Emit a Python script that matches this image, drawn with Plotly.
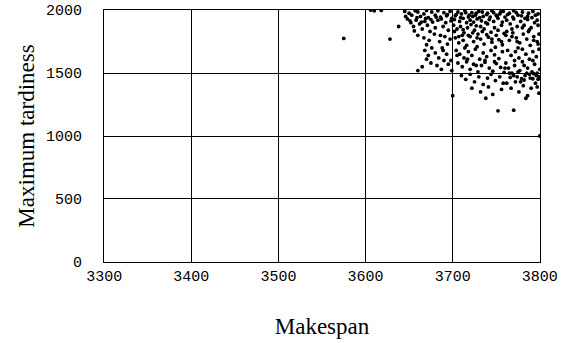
import plotly.graph_objects as go

outlier_x = [3575, 3606, 3610, 3618, 3628, 3638, 3700, 3752, 3770, 3800, 3660, 3665, 3690]
outlier_y = [1775, 2000, 1995, 1998, 1770, 1870, 1320, 1200, 1205, 1000, 1520, 1550, 1600]

top_x = [3645, 3650, 3653, 3657, 3660, 3663, 3667, 3670, 3672, 3676, 3680, 3683, 3686, 3690, 3694, 3697,
         3703, 3706, 3710, 3714, 3718, 3722, 3726, 3730, 3735, 3740, 3745, 3750, 3755, 3760, 3765, 3770,
         3775, 3780, 3786, 3792, 3798]
top_y = [1990, 1975, 1960, 1995, 1985, 1950, 1970, 1998, 1940, 1985, 1960, 1995, 1945, 1980, 1965, 1990,
         1955, 1985, 1970, 1995, 1945, 1980, 1960, 1990, 1950, 1975, 1995, 1960, 1985, 1945, 1975, 1995,
         1960, 1985, 1950, 1990, 1970]

a_x = [3648, 3652, 3655, 3658, 3662, 3665, 3668, 3671, 3674, 3677, 3680, 3683, 3686, 3689, 3692, 3695,
       3698, 3660, 3667, 3673, 3679, 3685, 3691, 3697, 3656, 3670, 3688, 3694]
a_y = [1930, 1900, 1870, 1920, 1890, 1850, 1910, 1880, 1830, 1905, 1860, 1920, 1800, 1870, 1900, 1840,
       1915, 1800, 1780, 1760, 1810, 1750, 1790, 1770, 1835, 1725, 1700, 1730]

d_x = [3668, 3672, 3676, 3680, 3684, 3689, 3693, 3698, 3675, 3682, 3687, 3695, 3699, 3670]
d_y = [1680, 1640, 1700, 1660, 1620, 1680, 1650, 1600, 1580, 1560, 1530, 1570, 1520, 1610]

b_x = [3702, 3708, 3712, 3716, 3720, 3724, 3728, 3733, 3738, 3742, 3747, 3752, 3757,
       3701, 3705, 3709, 3713, 3717, 3721, 3725, 3729, 3732, 3736, 3740, 3744, 3748, 3752, 3756, 3759, 3711, 3727,
       3703, 3707, 3712, 3716, 3720, 3724, 3728, 3732, 3736, 3741, 3745, 3749, 3753, 3757, 3714,
       3704, 3708, 3713, 3718, 3722, 3726, 3731, 3735, 3739, 3744, 3748, 3753, 3757,
       3706, 3711, 3716, 3720, 3724, 3729, 3733, 3737, 3742, 3746, 3750, 3755, 3759,
       3710, 3715, 3720, 3725, 3730, 3735, 3740, 3744, 3749, 3754, 3758,
       3722, 3732, 3741, 3746, 3756, 3738]
b_y = [1925, 1910, 1935, 1900, 1920, 1905, 1930, 1915, 1900, 1925, 1910, 1935, 1905,
       1880, 1850, 1870, 1820, 1860, 1885, 1840, 1810, 1870, 1850, 1890, 1825, 1860, 1840, 1880, 1815, 1800, 1875,
       1780, 1740, 1760, 1720, 1790, 1750, 1710, 1770, 1730, 1785, 1745, 1705, 1765, 1725, 1700,
       1680, 1650, 1620, 1670, 1640, 1690, 1610, 1660, 1630, 1680, 1645, 1615, 1670,
       1580, 1550, 1590, 1530, 1570, 1510, 1560, 1585, 1540, 1515, 1575, 1545, 1505,
       1480, 1450, 1490, 1430, 1470, 1410, 1460, 1490, 1440, 1470, 1420,
       1380, 1350, 1390, 1330, 1370, 1300]

c_x = [3762, 3766, 3770, 3774, 3778, 3782, 3786, 3790, 3794, 3798, 3768, 3788,
       3761, 3765, 3769, 3773, 3777, 3781, 3785, 3789, 3793, 3797, 3775, 3799,
       3763, 3767, 3772, 3776, 3780, 3784, 3788, 3792, 3796, 3799,
       3761, 3764, 3768, 3771, 3774, 3777, 3780, 3783, 3786, 3789, 3791, 3794, 3796, 3798, 3800, 3785, 3779, 3793, 3799, 3766,
       3762, 3767, 3772, 3776, 3781, 3786, 3790, 3795, 3799, 3784, 3797]
c_y = [1920, 1890, 1930, 1870, 1910, 1880, 1925, 1860, 1900, 1880, 1850, 1845,
       1800, 1760, 1820, 1780, 1740, 1810, 1770, 1720, 1790, 1750, 1700, 1810,
       1680, 1640, 1670, 1620, 1690, 1650, 1610, 1670, 1630, 1690,
       1580, 1540, 1500, 1560, 1470, 1520, 1590, 1480, 1540, 1460, 1510, 1570, 1480, 1450, 1530, 1500, 1455, 1495, 1470, 1465,
       1420, 1380, 1430, 1350, 1400, 1320, 1380, 1420, 1340, 1300, 1390]

e_x = [3646, 3651, 3659, 3664, 3669, 3675, 3681, 3687, 3693, 3699,
       3704, 3709, 3715, 3719, 3723, 3727, 3731, 3734, 3739, 3743, 3747, 3751, 3754, 3758,
       3763, 3769, 3773, 3779, 3783, 3787, 3791, 3795, 3797,
       3702, 3707, 3712, 3718, 3723, 3728, 3734, 3739, 3745, 3750, 3756,
       3762, 3768, 3774, 3780, 3787, 3793, 3798,
       3705, 3717, 3727, 3737, 3748, 3760, 3771, 3782, 3792,
       3770, 3775, 3782, 3788, 3792, 3797, 3800, 3765, 3778]
e_y = [1950, 1915, 1940, 1905, 1935, 1925, 1945, 1930, 1955, 1935,
       1965, 1940, 1980, 1960, 1950, 1975, 1940, 1985, 1965, 1945, 1980, 1950, 1970, 1990,
       1965, 1945, 1980, 1955, 1935, 1975, 1940, 1960, 1920,
       1830, 1790, 1845, 1800, 1820, 1780, 1830, 1805, 1770, 1800, 1750,
       1830, 1790, 1750, 1860, 1830, 1760, 1730,
       1640, 1610, 1560, 1600, 1590, 1540, 1600, 1560, 1600,
       1480, 1510, 1445, 1490, 1455, 1500, 1460, 1500, 1430]

makespan = outlier_x + top_x + a_x + d_x + b_x + c_x + e_x
tardiness = outlier_y + top_y + a_y + d_y + b_y + c_y + e_y

x_ticks = [3300, 3400, 3500, 3600, 3700, 3800]
y_ticks = [0, 500, 1000, 1500, 2000]

fig = go.Figure(go.Scatter(
    x=makespan, y=tardiness, mode="markers",
    marker=dict(color="black", size=3.8, line=dict(width=0)),
    showlegend=False,
))

tick_font = dict(family="Liberation Mono", size=15, color="black")
title_font = dict(family="Liberation Serif", size=23, color="black")

fig.update_layout(
    width=568, height=343,
    margin=dict(l=104, r=28, t=10, b=81),
    paper_bgcolor="white", plot_bgcolor="white",
    xaxis=dict(
        range=[3299.8, 3800.2], tickvals=x_ticks, ticktext=[str(v) for v in x_ticks],
        showgrid=True, gridcolor="black", gridwidth=1,
        showline=True, linecolor="black", linewidth=1, mirror=True,
        ticks="", tickfont=tick_font, zeroline=False, automargin=False,
        ticklabeloverflow="allow",
        title=dict(text="Makespan", font=title_font, standoff=32),
    ),
    yaxis=dict(
        range=[-1, 2001], tickvals=y_ticks, ticktext=[str(v) for v in y_ticks],
        showgrid=True, gridcolor="black", gridwidth=1,
        showline=True, linecolor="black", linewidth=1, mirror=True,
        ticks="", tickfont=tick_font, zeroline=False, ticklabelstandoff=18, automargin=False,
        ticklabeloverflow="allow",
        title=dict(text="Maximum tardiness", font=title_font, standoff=4),
    ),
)

fig.write_html("out.html", config={"displayModeBar": False},
               post_script="document.body.style.margin='0';")
